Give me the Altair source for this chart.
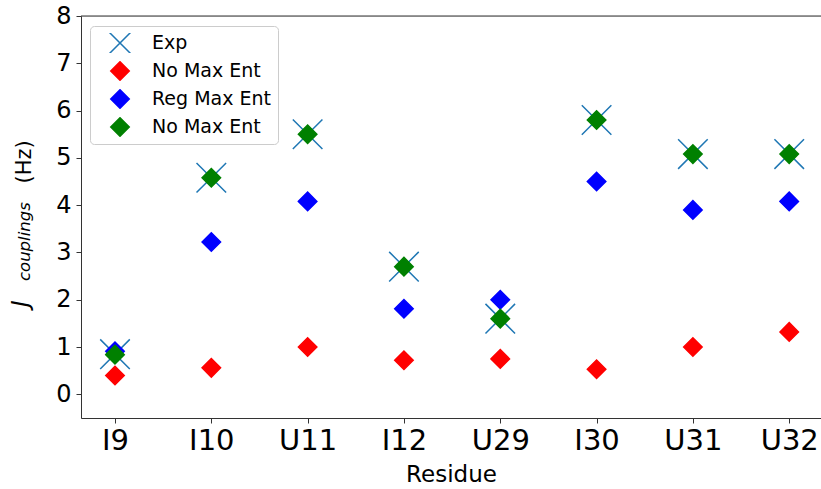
import altair as alt
import pandas as pd

# Residues along the x axis
residues = ["I9", "I10", "U11", "I12", "U29", "I30", "U31", "U32"]

# J couplings (Hz) for each series
exp_vals = [0.85, 4.58, 5.5, 2.7, 1.6, 5.8, 5.08, 5.08]
no_max_ent = [0.4, 0.56, 1.0, 0.72, 0.75, 0.53, 1.0, 1.32]
reg_max_ent = [0.91, 3.22, 4.08, 1.81, 2.0, 4.5, 3.9, 4.08]
no_max_ent_b = [0.84, 4.58, 5.5, 2.7, 1.6, 5.8, 5.08, 5.08]

series_keys = ["exp", "nme", "rme", "nme_b"]
series_labels = ["Exp", "No Max Ent", "Reg Max Ent", "No Max Ent"]
series_colors = ["#1f77b4", "#ff0000", "#0000ff", "#008000"]
x_path = "M-1.6,-1.6L1.6,1.6M-1.6,1.6L1.6,-1.6"
series_shapes = [x_path, "diamond", "diamond", "diamond"]

rows = []
for key, vals in zip(series_keys, [exp_vals, no_max_ent, reg_max_ent, no_max_ent_b]):
    for i, v in enumerate(vals):
        rows.append({"idx": i, "residue": residues[i], "series": key, "J": v})
df = pd.DataFrame(rows)

W, H = 740, 402
FONT = "DejaVu Sans"

residue_expr = "[" + ",".join(f"'{r}'" for r in residues) + "][datum.value]"
label_expr = "".join(
    f"datum.value == '{k}' ? '{l}' : " for k, l in zip(series_keys, series_labels)
) + "datum.value"

legend = alt.Legend(
    orient="none", legendX=9, legendY=10, title=None,
    fillColor="rgba(255,255,255,0.8)", strokeColor="#cccccc", cornerRadius=4,
    padding=7, symbolOffset=13, labelOffset=22, rowPadding=8, clipHeight=20,
    symbolSize=342, symbolStrokeWidth=1.5,
    labelFont=FONT, labelFontSize=19, labelColor="black",
    labelExpr=label_expr,
)

points = alt.Chart(df).mark_point(size=342, strokeWidth=1.5, opacity=1).encode(
    x=alt.X(
        "idx:Q",
        scale=alt.Scale(domain=[-0.353, 7.33], nice=False, zero=False),
        axis=alt.Axis(
            values=list(range(len(residues))), labelExpr=residue_expr,
            title="Residue", grid=False, labelFont=FONT, labelFontSize=29,
            labelColor="black", labelPadding=3, tickSize=5, tickColor="#333",
            domainColor="#333", titleFont=FONT, titleFontSize=23,
            titleFontWeight="normal", titleColor="black", titlePadding=8,
            labelFlush=False,
        ),
    ),
    y=alt.Y(
        "J:Q",
        scale=alt.Scale(domain=[-0.5, 8], nice=False, zero=False),
        axis=alt.Axis(
            values=list(range(0, 9)), grid=False, labelFont=FONT,
            labelFontSize=24, labelColor="black", labelPadding=5, tickSize=5,
            tickColor="#333", domainColor="#333", labelFlush=False,
            # unit part of the rotated y title
            title="(Hz)", titleFont=FONT, titleFontSize=21,
            titleFontWeight="normal", titleColor="black", titleAngle=270,
            titleAlign="left", titleBaseline="alphabetic",
            titleX=-51, titleY=167,
        ),
    ),
    fill=alt.Fill("series:N", scale=alt.Scale(domain=series_keys, range=series_colors), legend=legend),
    stroke=alt.Stroke("series:N", scale=alt.Scale(domain=series_keys, range=series_colors), legend=legend),
    shape=alt.Shape("series:N", scale=alt.Scale(domain=series_keys, range=series_shapes), legend=legend),
)

# Top frame line of the plot area
top_line = alt.Chart(pd.DataFrame({"k": [0]})).mark_rule(color="#333", strokeWidth=1).encode(
    x=alt.value(0), x2=alt.value(W), y=alt.value(0)
)

# Rotated y title: J with italic subscript
def rot_text(txt, x, y, size, style):
    return alt.Chart(pd.DataFrame({"t": [txt]})).mark_text(
        angle=270, align="left", baseline="alphabetic", font=FONT,
        fontSize=size, fontStyle=style, color="black",
    ).encode(text="t:N", x=alt.value(x), y=alt.value(y))

title_j = rot_text("J", -53, 291, 23, "italic")
title_sub = rot_text("couplings", -51, 265, 16.5, "italic")

chart = alt.layer(top_line, points, title_j, title_sub).properties(
    width=W, height=H,
    autosize=alt.AutoSizeParams(type="none"),
    padding={"left": 81, "top": 16, "right": 0, "bottom": 71},
).configure_view(stroke=None).configure(background="white")

chart.save("out.html", embed_options={"renderer": "svg", "actions": False})
